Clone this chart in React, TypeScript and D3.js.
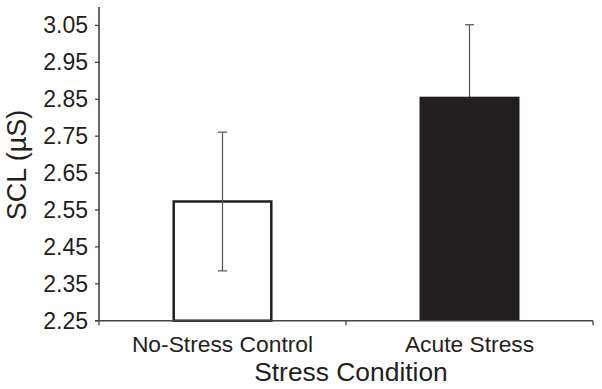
import React from "react";
import * as d3 from "d3";

const categories = ["No-Stress Control", "Acute Stress"];
const means = [2.573, 2.857];
const errors = [0.188, 0.195];
const yTicks = [2.25, 2.35, 2.45, 2.55, 2.65, 2.75, 2.85, 2.95, 3.05];

const W = 602, H = 389;
const left = 99, right = 593, top = 7, bottom = 320.7;
const ink = "#231f20";

export default function App() {
  const x = d3.scaleBand<string>().domain(categories).range([left, right]).padding(0);
  const y = d3.scaleLinear().domain([2.25, 3.1]).range([bottom, top]);
  const barW = 100;
  const bounds = [left, ...categories.map((c) => (x(c) as number) + x.bandwidth())];
  return (
    <svg width={W} height={H} style={{ position: "absolute", left: 0, top: 0, background: "#fff" }}
      fontFamily="'Liberation Sans', Arial, sans-serif">
      {categories.map((c, i) => {
        const cx = (x(c) as number) + x.bandwidth() / 2;
        const yt = y(means[i]);
        const filled = i === 1;
        return (
          <g key={c}>
            {!filled && (
              <rect x={cx - barW / 2 + 1.2} y={yt} width={barW - 2.4} height={bottom - yt}
                fill="#fff" stroke={ink} strokeWidth={2.5} />
            )}
            <line x1={cx} x2={cx} y1={y(means[i] + errors[i])} y2={y(means[i] - errors[i])} stroke="#555" strokeWidth={1.2} />
            <line x1={cx - 4.5} x2={cx + 4.5} y1={y(means[i] + errors[i])} y2={y(means[i] + errors[i])} stroke="#555" strokeWidth={1.2} />
            <line x1={cx - 4.5} x2={cx + 4.5} y1={y(means[i] - errors[i])} y2={y(means[i] - errors[i])} stroke="#555" strokeWidth={1.2} />
            {filled && (
              <rect x={cx - barW / 2} y={yt} width={barW} height={bottom - yt} fill={ink} />
            )}
            <text x={cx} y={351.5} textAnchor="middle" fontSize={22.8} fill={ink}>{c}</text>
          </g>
        );
      })}
      {/* y axis */}
      <line x1={left} x2={left} y1={top} y2={bottom} stroke="#444" strokeWidth={1.6} />
      {yTicks.map((t) => (
        <g key={t}>
          <line x1={left - 4} x2={left} y1={y(t)} y2={y(t)} stroke="#444" strokeWidth={1.3} />
          <text x={88} y={y(t) + 7.9} textAnchor="end" fontSize={23} fill={ink}>{t.toFixed(2)}</text>
        </g>
      ))}
      {/* x axis */}
      <line x1={95} x2={right} y1={bottom} y2={bottom} stroke="#444" strokeWidth={1.6} />
      {bounds.map((b, i) => (
        <line key={i} x1={b} x2={b} y1={bottom} y2={bottom + 4.5} stroke="#444" strokeWidth={1.3} />
      ))}
      <text x={351} y={381} textAnchor="middle" fontSize={26.4} fill={ink}>Stress Condition</text>
      <text transform={`translate(25.5,165) rotate(-90)`} textAnchor="middle" fontSize={27} fill={ink}>SCL (µS)</text>
    </svg>
  );
}
